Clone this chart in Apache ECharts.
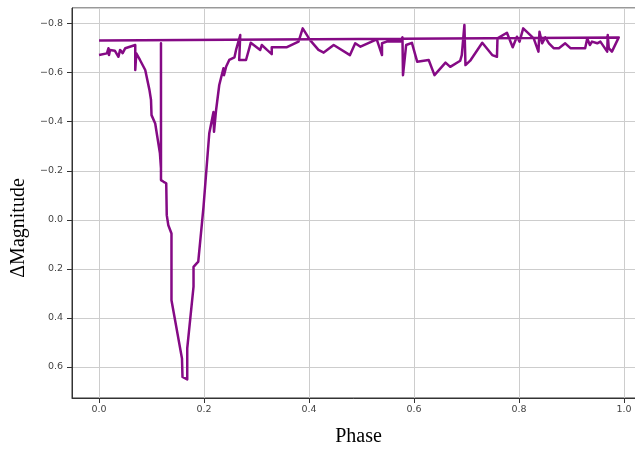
<!DOCTYPE html>
<html>
<head>
<meta charset="utf-8">
<script src="https://cdn.jsdelivr.net/npm/echarts@6/dist/echarts.min.js"></script>
<style>
    html, body { margin: 0; padding: 0; background: #fff; }
    #chart { width: 635px; height: 450px; }
</style>
</head>
<body>
<div id="chart"></div>
<script>
// light curve (last point wraps back to phase 0)
const phase = [
    0.000, 0.015, 0.018, 0.019, 0.021, 0.030, 0.037, 0.040, 0.045, 0.050,
    0.069, 0.069, 0.071, 0.078, 0.088, 0.096, 0.099, 0.100, 0.107, 0.111,
    0.116, 0.118, 0.118, 0.118, 0.123, 0.128, 0.129, 0.132, 0.138, 0.138,
    0.158, 0.159, 0.168, 0.168, 0.180, 0.180, 0.189, 0.196, 0.199, 0.210,
    0.218, 0.219, 0.223, 0.229, 0.237, 0.238, 0.242, 0.248, 0.258, 0.261,
    0.269, 0.267, 0.280, 0.289, 0.307, 0.310, 0.320, 0.329, 0.329, 0.358,
    0.380, 0.388, 0.402, 0.418, 0.428, 0.447, 0.478, 0.488, 0.498, 0.529,
    0.539, 0.539, 0.548, 0.574, 0.578, 0.579, 0.585, 0.596, 0.606, 0.628,
    0.639, 0.660, 0.669, 0.688, 0.691, 0.696, 0.698, 0.707, 0.730, 0.749,
    0.758, 0.759, 0.777, 0.788, 0.796, 0.801, 0.808, 0.828, 0.837, 0.839,
    0.844, 0.850, 0.857, 0.866, 0.876, 0.888, 0.898, 0.926, 0.930, 0.935,
    0.939, 0.949, 0.955, 0.968, 0.969, 0.971, 0.977, 0.990, 0.000
];
const dMag = [
    -0.672, -0.679, -0.700, -0.672, -0.693, -0.690, -0.665, -0.693, -0.680, -0.700,
    -0.713, -0.611, -0.679, -0.652, -0.611, -0.530, -0.489, -0.427, -0.393, -0.339,
    -0.271, -0.210, -0.720, -0.162, -0.155, -0.149, -0.019, 0.022, 0.056, 0.328,
    0.566, 0.641, 0.651, 0.525, 0.273, 0.192, 0.171, 0.015, -0.053, -0.353,
    -0.440, -0.359, -0.448, -0.550, -0.618, -0.590, -0.624, -0.652, -0.663, -0.693,
    -0.754, -0.652, -0.652, -0.722, -0.693, -0.713, -0.693, -0.676, -0.704, -0.704,
    -0.727, -0.781, -0.733, -0.693, -0.682, -0.713, -0.672, -0.720, -0.706, -0.736,
    -0.672, -0.720, -0.727, -0.727, -0.744, -0.590, -0.713, -0.722, -0.645, -0.652,
    -0.590, -0.641, -0.624, -0.649, -0.672, -0.795, -0.631, -0.649, -0.722, -0.672,
    -0.665, -0.740, -0.763, -0.704, -0.747, -0.727, -0.781, -0.740, -0.686, -0.767,
    -0.720, -0.744, -0.720, -0.700, -0.700, -0.720, -0.700, -0.700, -0.740, -0.713,
    -0.727, -0.720, -0.727, -0.686, -0.754, -0.700, -0.686, -0.744, -0.731
];

const tickStep = 0.2;

const fmtTick = (v) => {
    const k = v / tickStep;
    if (Math.abs(k - Math.round(k)) > 1e-6) return "";
    const r = Math.round(k) * tickStep;
    if (Math.abs(r) < 1e-9) return "0.0";
    return (r < 0 ? "\u2212" : "") + Math.abs(r).toFixed(1);
};

const getOption = () => {
    return {
        animation: false,
        backgroundColor: "#fff",
        grid: {
            left: 72,
            top: 8,
            width: 573,
            height: 390,
            show: true,
            borderColor: "#333",
            borderWidth: 1,
            containLabel: false,
            outerBoundsMode: "none"
        },
        xAxis: {
            type: "value",
            min: -0.0515,
            max: 1.04,
            splitNumber: 5,
            name: "Phase",
            nameLocation: "middle",
            nameGap: 29,
            nameTextStyle: {
                fontFamily: "Liberation Serif",
                fontSize: 20,
                color: "#000"
            },
            axisLine: { show: true, onZero: false, lineStyle: { color: "#333", width: 1 } },
            axisTick: { show: true, length: 5, lineStyle: { color: "#333" } },
            axisLabel: {
                margin: 7,
                fontFamily: "DejaVu Sans",
                fontSize: 9.5,
                color: "#444",
                showMinLabel: false,
                showMaxLabel: false,
                formatter: fmtTick
            },
            splitLine: { show: true, lineStyle: { color: "#cdcdcd", width: 1 } }
        },
        yAxis: {
            type: "value",
            inverse: true,
            min: -0.864,
            max: 0.727,
            splitNumber: 8,
            name: "\u0394Magnitude",
            nameLocation: "middle",
            nameGap: 31,
            nameRotate: 90,
            nameTextStyle: {
                fontFamily: "Liberation Serif",
                fontSize: 20,
                color: "#000",
                padding: [0, 50, 0, 0]
            },
            axisLine: { show: true, onZero: false, lineStyle: { color: "#333", width: 1 } },
            axisTick: { show: true, length: 5, lineStyle: { color: "#333" } },
            axisLabel: {
                margin: 9,
                fontFamily: "DejaVu Sans",
                fontSize: 9.5,
                color: "#444",
                showMinLabel: false,
                showMaxLabel: false,
                formatter: fmtTick
            },
            splitLine: { show: true, lineStyle: { color: "#cdcdcd", width: 1 } }
        },
        series: [
            {
                type: "line",
                data: phase.map((p, i) => [p, dMag[i]]),
                showSymbol: false,
                symbol: "none",
                lineStyle: { color: "#850a85", width: 2.5, join: "round" },
                clip: true
            }
        ]
    };
};

window.addEventListener("load", () => {
    const chart = echarts.init(document.getElementById("chart"), null, { renderer: "canvas" });
    chart.setOption(getOption());
});
</script>
</body>
</html>
